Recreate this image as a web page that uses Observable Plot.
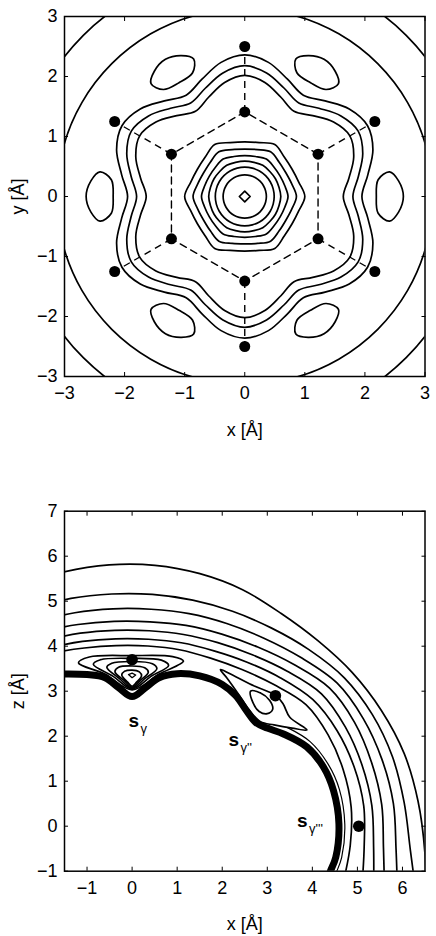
<!DOCTYPE html>
<html><head><meta charset="utf-8">
<script src="https://cdn.jsdelivr.net/npm/d3@7"></script>
<script src="https://cdn.jsdelivr.net/npm/@observablehq/plot@0.6"></script>
<style>body{margin:0;background:#fff}#chart svg{display:block}</style>
</head><body><div id="chart"></div>
<script>
const font = "'Liberation Sans', Arial, Helvetica, sans-serif";

// ---------- top panel data ----------
const topXTicks = [-3, -2, -1, 0, 1, 2, 3];
const topYTicks = [-3, -2, -1, 0, 1, 2, 3];

const angles10 = [0,10,20,30,40,50,60,70,80,90,100,110,120,130,140,150,160,170,180,190,200,210,220,230,240,250,260,270,280,290,300,310,320,330,340,350];
const angles15 = [0,15,30,45,60,75,90,105,120,135,150,165,180,195,210,225,240,255,270,285,300,315,330,345];

// wavy (flower) contours, radius read at each 10 degrees
const flowerOuterR = [1.95,2.08,2.27,2.36,2.27,2.08, 1.95,2.08,2.27,2.36,2.27,2.08, 1.95,2.08,2.27,2.36,2.27,2.08, 1.95,2.08,2.27,2.36,2.27,2.08, 1.95,2.08,2.27,2.36,2.27,2.08, 1.95,2.08,2.27,2.36,2.27,2.08];
const flowerMidR   = [1.80,1.92,2.09,2.18,2.09,1.92, 1.80,1.92,2.09,2.18,2.09,1.92, 1.80,1.92,2.09,2.18,2.09,1.92, 1.80,1.92,2.09,2.18,2.09,1.92, 1.80,1.92,2.09,2.18,2.09,1.92, 1.80,1.92,2.09,2.18,2.09,1.92];
const flowerInnerR = [1.64,1.76,1.93,2.02,1.93,1.76, 1.64,1.76,1.93,2.02,1.93,1.76, 1.64,1.76,1.93,2.02,1.93,1.76, 1.64,1.76,1.93,2.02,1.93,1.76, 1.64,1.76,1.93,2.02,1.93,1.76, 1.64,1.76,1.93,2.02,1.93,1.76];

// central rings, radius read at each 15 degrees
const ring6R = [1.00,0.93,0.91,0.93, 1.00,0.93,0.91,0.93, 1.00,0.93,0.91,0.93, 1.00,0.93,0.91,0.93, 1.00,0.93,0.91,0.93, 1.00,0.93,0.91,0.93];
const ring5R = [0.86,0.81,0.79,0.81, 0.86,0.81,0.79,0.81, 0.86,0.81,0.79,0.81, 0.86,0.81,0.79,0.81, 0.86,0.81,0.79,0.81, 0.86,0.81,0.79,0.81];
const ring4R = [0.72,0.69,0.68,0.69, 0.72,0.69,0.68,0.69, 0.72,0.69,0.68,0.69, 0.72,0.69,0.68,0.69, 0.72,0.69,0.68,0.69, 0.72,0.69,0.68,0.69];
const ring3R = [0.60,0.59,0.59,0.59, 0.60,0.59,0.59,0.59, 0.60,0.59,0.59,0.59, 0.60,0.59,0.59,0.59, 0.60,0.59,0.59,0.59, 0.60,0.59,0.59,0.59];
const ring2R = [0.49,0.49,0.49,0.49, 0.49,0.49,0.49,0.49, 0.49,0.49,0.49,0.49, 0.49,0.49,0.49,0.49, 0.49,0.49,0.49,0.49, 0.49,0.49,0.49,0.49];
const ring1R = [0.36,0.36,0.36,0.36, 0.36,0.36,0.36,0.36, 0.36,0.36,0.36,0.36, 0.36,0.36,0.36,0.36, 0.36,0.36,0.36,0.36, 0.36,0.36,0.36,0.36];
const bigCircleR = [3.13,3.13,3.13,3.13, 3.13,3.13,3.13,3.13, 3.13,3.13,3.13,3.13, 3.13,3.13,3.13,3.13, 3.13,3.13,3.13,3.13, 3.13,3.13,3.13,3.13];
const cornerCircleR = [3.80,3.80,3.80,3.80, 3.80,3.80,3.80,3.80, 3.80,3.80,3.80,3.80, 3.80,3.80,3.80,3.80, 3.80,3.80,3.80,3.80, 3.80,3.80,3.80,3.80];

const centerDiamond = [[0.09,0],[0,0.09],[-0.09,0],[0,-0.09]];

// six small islands
const oval0   = [[2.19,0],[2.22,0.28],[2.41,0.41],[2.56,0.26],[2.64,0],[2.56,-0.26],[2.41,-0.41],[2.22,-0.28]];
const oval60  = [[1.095,1.897],[0.868,2.063],[0.850,2.292],[1.055,2.347],[1.32,2.286],[1.505,2.087],[1.560,1.882],[1.353,1.783]];
const oval120 = [[-1.095,1.897],[-1.353,1.783],[-1.560,1.882],[-1.505,2.087],[-1.32,2.286],[-1.055,2.347],[-0.850,2.292],[-0.868,2.063]];
const oval180 = [[-2.19,0],[-2.22,-0.28],[-2.41,-0.41],[-2.56,-0.26],[-2.64,0],[-2.56,0.26],[-2.41,0.41],[-2.22,0.28]];
const oval240 = [[-1.095,-1.897],[-0.868,-2.063],[-0.850,-2.292],[-1.055,-2.347],[-1.32,-2.286],[-1.505,-2.087],[-1.560,-1.882],[-1.353,-1.783]];
const oval300 = [[1.095,-1.897],[1.353,-1.783],[1.560,-1.882],[1.505,-2.087],[1.32,-2.286],[1.055,-2.347],[0.850,-2.292],[0.868,-2.063]];

// atoms
const innerAtoms = [[1.22,0.705],[0,1.41],[-1.22,0.705],[-1.22,-0.705],[0,-1.41],[1.22,-0.705]];
const outerAtoms = [[2.165,1.25],[0,2.5],[-2.165,1.25],[-2.165,-1.25],[0,-2.5],[2.165,-1.25]];

// ---------- bottom panel data ----------
const botXTicks = [-1, 0, 1, 2, 3, 4, 5, 6];
const botYTicks = [-1, 0, 1, 2, 3, 4, 5, 6, 7];
const botAngles = [-15,-5,5,15,25,35,45,55,65,75,85,95,105,115,120];
const arc1R = [6.75,6.52,6.37,6.25,6.10,5.96,5.83,5.77,5.80,5.81,5.82,5.83,5.85,5.90,5.95];
const arc2R = [6.55,6.20,6.06,5.98,5.88,5.75,5.55,5.38,5.27,5.20,5.17,5.18,5.24,5.32,5.38];
const arc3R = [6.10,5.88,5.82,5.74,5.66,5.55,5.30,5.10,4.97,4.89,4.84,4.85,4.91,5.00,5.06];
const arc4R = [5.80,5.60,5.56,5.50,5.45,5.35,5.08,4.86,4.71,4.62,4.56,4.57,4.64,4.76,4.83];
const arc5R = [5.55,5.38,5.34,5.28,5.22,5.13,4.87,4.65,4.50,4.41,4.36,4.37,4.44,4.55,4.62];
const arc6R = [5.28,5.17,5.16,5.10,5.02,4.90,4.66,4.45,4.30,4.22,4.17,4.18,4.25,4.37,4.45];
const arc7R = [4.85,4.86,4.88,4.85,4.80,4.71,4.45,4.25,4.12,4.06,4.02,4.03,4.10,4.24,4.32];

const band = [[-1.7,3.38],[-1.0,3.37],[-0.6,3.30],[-0.3,3.08],[0,2.88],[0.3,3.08],[0.6,3.30],[1.0,3.39],[1.5,3.34],[2.0,3.15],[2.3,2.90],[2.55,2.55],[2.75,2.30],[3.0,2.18],[3.36,2.05],[3.88,1.76],[4.25,1.31],[4.47,0.79],[4.59,0.05],[4.52,-0.69],[4.40,-1.0],[4.32,-1.2]];
const bandOuter = [[3.45,2.19],[3.95,1.88],[4.35,1.38],[4.60,0.82],[4.72,0.05],[4.65,-0.70],[4.53,-1.03],[4.45,-1.2]];

const gammaLoop1 = [[-1.19,3.63],[-0.95,3.76],[0,3.79],[0.9,3.77],[1.14,3.67],[0.6,3.38],[0,3.03],[-0.6,3.38]];
const gammaLoop2 = [[-0.86,3.60],[-0.7,3.70],[0,3.73],[0.65,3.69],[0.81,3.57],[0.42,3.33],[0,3.05],[-0.42,3.33]];
const gammaLoop3 = [[-0.56,3.53],[-0.45,3.62],[0,3.66],[0.45,3.61],[0.55,3.50],[0.28,3.28],[0,3.07],[-0.28,3.28]];
const gammaLoop4 = [[-0.38,3.43],[-0.3,3.53],[0,3.56],[0.28,3.52],[0.36,3.42],[0.18,3.24],[0,3.09],[-0.18,3.24]];
const gammaLoop5 = [[-0.23,3.36],[-0.17,3.44],[0,3.47],[0.16,3.43],[0.21,3.34],[0.1,3.2],[0,3.11],[-0.1,3.2]];
const gammaLoop6 = [[-0.08,3.37],[0,3.40],[0.08,3.36],[0,3.30]];
const gamma2Inner = [[2.63,3.0],[2.85,2.96],[3.05,2.8],[3.12,2.6],[3.0,2.5],[2.82,2.55],[2.68,2.75]];
const gamma2Outer = [[1.96,3.48],[2.3,3.32],[2.7,3.12],[3.0,3.0],[3.2,2.9],[3.35,2.72],[3.5,2.42],[3.88,2.14],[3.55,2.18],[3.15,2.25],[2.85,2.32],[2.6,2.58],[2.35,2.95],[2.1,3.3]];

const siteDots = [[0,3.70],[3.18,2.90],[5.03,0.0]];
const siteLabels = [{x:-0.08, z:2.2, sub:"γ"}, {x:2.14, z:1.79, sub:"γ''"}, {x:3.66, z:-0.02, sub:"γ'''"}];

// ---------- helpers ----------
const polar = (angles, radii) => angles.map((a, i) => ({x: radii[i] * Math.cos(a * Math.PI / 180), y: radii[i] * Math.sin(a * Math.PI / 180)}));
const pts = (p) => p.map(([x, y]) => ({x, y}));
const LW = 1.7;
const closed = (data, curve = "catmull-rom-closed", extra = {}) => Plot.line(data, {x: "x", y: "y", curve, stroke: "black", strokeWidth: LW, clip: true, ...extra});
const open = (data, extra = {}) => Plot.line(data, {x: "x", y: "y", curve: "catmull-rom", stroke: "black", strokeWidth: LW, clip: true, ...extra});
const blank = () => "";

function axes(xt, yt, xl, yl) {
  return [
    // labels
    Plot.axisX(xt, {anchor: "bottom", tickSize: 0, tickPadding: 10, tickFormat: "d", label: xl, labelAnchor: "center", labelOffset: 59, labelArrow: "none", fontSize: 18}),
    Plot.axisY(yt, {anchor: "left", tickSize: 0, tickPadding: 7, tickFormat: "d", label: yl, labelAnchor: "center", labelOffset: 53, labelArrow: "none", fontSize: 18}),
    // inward ticks on all four sides
    Plot.axisX(xt, {anchor: "bottom", tickSize: 4, dy: -4, tickFormat: blank, label: null}),
    Plot.axisX(xt, {anchor: "top", tickSize: 4, dy: 4, tickFormat: blank, label: null}),
    Plot.axisY(yt, {anchor: "left", tickSize: 4, dx: 4, tickFormat: blank, label: null}),
    Plot.axisY(yt, {anchor: "right", tickSize: 4, dx: -4, tickFormat: blank, label: null}),
    Plot.frame({stroke: "black", strokeWidth: 1.5})
  ];
}

const spokes = innerAtoms.map((p, i) => ({x1: p[0], y1: p[1], x2: outerAtoms[i][0], y2: outerAtoms[i][1]}));

const topPlot = Plot.plot({
  width: 436, height: 450,
  marginTop: 16, marginBottom: 74, marginLeft: 64, marginRight: 11.5,
  style: {fontFamily: font, fontSize: "18px", color: "black", background: "white"},
  x: {domain: [-3, 3]},
  y: {domain: [-3, 3]},
  marks: [
    closed(polar(angles15, cornerCircleR)),
    closed(polar(angles15, bigCircleR)),
    closed(polar(angles10, flowerOuterR)),
    closed(polar(angles10, flowerMidR)),
    closed(polar(angles10, flowerInnerR)),
    closed(polar(angles15, ring6R)),
    closed(polar(angles15, ring5R)),
    closed(polar(angles15, ring4R)),
    closed(polar(angles15, ring3R)),
    closed(polar(angles15, ring2R)),
    closed(polar(angles15, ring1R)),
    closed(pts(centerDiamond), "linear-closed"),
    ...[oval0, oval60, oval120, oval180, oval240, oval300].map(o => closed(pts(o))),
    Plot.line(pts(innerAtoms), {x: "x", y: "y", curve: "linear-closed", stroke: "black", strokeWidth: 1.4, strokeDasharray: "7,5"}),
    Plot.link(spokes, {x1: "x1", y1: "y1", x2: "x2", y2: "y2", stroke: "black", strokeWidth: 1.4, strokeDasharray: "7,5"}),
    Plot.dot(pts([...innerAtoms, ...outerAtoms]), {x: "x", y: "y", r: 5.5, fill: "black"}),
    ...axes(topXTicks, topYTicks, "x [Å]", "y [Å]")
  ]
});

const botPlot = Plot.plot({
  width: 436, height: 486,
  marginTop: 60.7, marginBottom: 65.3, marginLeft: 64, marginRight: 11.5,
  style: {fontFamily: font, fontSize: "18px", color: "black", background: "white"},
  x: {domain: [-1.5, 6.5]},
  y: {domain: [-1, 7]},
  marks: [
    ...[arc1R, arc2R, arc3R, arc4R, arc5R, arc6R, arc7R].map(r => open(polar(botAngles, r))),
    ...[gammaLoop1, gammaLoop2, gammaLoop3, gammaLoop4, gammaLoop5].map(l => closed(pts(l))),
    closed(pts(gammaLoop6), "linear-closed", {strokeWidth: 1.3}),
    closed(pts(gamma2Inner)),
    closed(pts(gamma2Outer)),
    open(pts(bandOuter), {strokeWidth: 1.2}),
    open(pts(band), {strokeWidth: 7, strokeLinejoin: "round"}),
    Plot.dot(pts(siteDots), {x: "x", y: "y", r: 5.8, fill: "black"}),
    Plot.text(siteLabels, {x: "x", y: "z", text: () => "s", fontWeight: "bold", fontSize: 19, textAnchor: "start", lineAnchor: "bottom"}),
    Plot.text(siteLabels, {x: "x", y: "z", text: "sub", dx: 12, dy: 6, fontSize: 13, textAnchor: "start", lineAnchor: "bottom"}),
    ...axes(botXTicks, botYTicks, "x [Å]", "z [Å]")
  ]
});

document.getElementById("chart").append(topPlot, botPlot);
</script></body></html>
